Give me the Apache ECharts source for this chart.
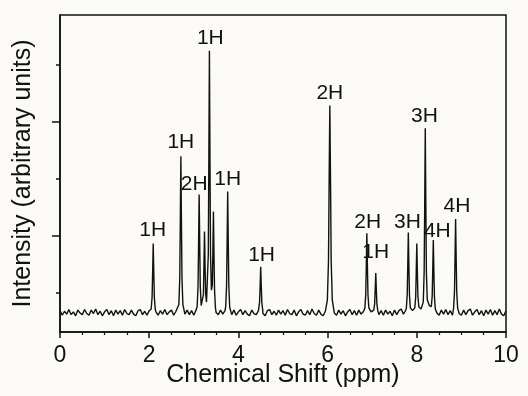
<!DOCTYPE html>
<html>
<head>
<meta charset="utf-8">
<script src="https://cdn.jsdelivr.net/npm/echarts@6/dist/echarts.min.js"></script>
<style>
html,body{margin:0;padding:0;background:#fbfaf7;}
#chart{width:528px;height:396px;}
</style>
</head>
<body>
<div id="chart"></div>
<script>
// Spectrum trace: [chemical shift (ppm), intensity (arbitrary units)]
const spectrum = [
[0.00,0.69],[0.05,0.61],[0.10,0.68],[0.15,0.63],[0.20,0.71],[0.25,0.62],[0.30,0.67],[0.35,0.60],[0.40,0.70],[0.45,0.65],
[0.50,0.62],[0.55,0.71],[0.60,0.64],[0.65,0.61],[0.70,0.70],[0.75,0.64],[0.80,0.72],[0.85,0.62],[0.90,0.68],[0.95,0.60],
[1.00,0.67],[1.05,0.71],[1.10,0.62],[1.15,0.69],[1.20,0.60],[1.25,0.70],[1.30,0.63],[1.35,0.69],[1.40,0.61],[1.45,0.71],
[1.50,0.64],[1.55,0.62],[1.60,0.70],[1.65,0.63],[1.70,0.60],[1.75,0.69],[1.80,0.71],[1.85,0.62],[1.90,0.68],[1.95,0.61],
[2.00,0.69],
[2.045,0.72],[2.065,0.93],[2.078,1.39],[2.09,1.87],[2.102,1.39],[2.115,0.93],[2.135,0.72],
[2.15,0.67],[2.20,0.61],[2.25,0.69],[2.30,0.63],[2.35,0.71],[2.40,0.62],[2.45,0.67],[2.50,0.70],[2.55,0.61],[2.60,0.68],
[2.665,0.80],[2.685,1.26],[2.698,2.30],[2.71,3.40],[2.722,2.30],[2.735,1.26],[2.755,0.80],
[2.80,0.63],[2.85,0.70],[2.90,0.62],[2.95,0.69],[3.00,0.61],[3.05,0.70],
[3.075,0.76],[3.095,1.12],[3.108,1.90],[3.12,2.73],[3.132,1.90],[3.145,1.12],[3.165,0.78],[3.18,0.76],
[3.195,0.80],[3.215,0.97],[3.228,1.51],[3.24,2.08],[3.252,1.51],[3.265,0.99],[3.285,0.84],[3.30,0.84],
[3.325,1.67],[3.338,3.41],[3.35,5.25],[3.362,3.41],[3.375,1.67],[3.395,1.05],
[3.415,1.14],[3.428,1.72],[3.44,2.43],[3.452,1.72],[3.465,1.05],[3.485,0.74],[3.50,0.66],
[3.55,0.62],[3.60,0.70],[3.65,0.63],[3.70,0.69],
[3.715,0.76],[3.735,1.13],[3.748,1.93],[3.76,2.78],[3.772,1.93],[3.785,1.13],[3.805,0.75],
[3.85,0.62],[3.90,0.70],[3.95,0.61],[4.00,0.67],[4.05,0.71],[4.10,0.62],[4.15,0.69],[4.20,0.63],[4.25,0.60],[4.30,0.70],
[4.35,0.64],[4.40,0.62],[4.45,0.69],
[4.455,0.70],[4.475,0.84],[4.488,1.14],[4.50,1.46],[4.512,1.14],[4.525,0.84],[4.545,0.70],
[4.55,0.64],[4.60,0.60],[4.65,0.69],[4.70,0.71],[4.75,0.62],[4.80,0.68],[4.85,0.61],[4.90,0.70],[4.95,0.63],[5.00,0.69],
[5.05,0.61],[5.10,0.71],[5.15,0.64],[5.20,0.62],[5.25,0.70],[5.30,0.60],[5.35,0.67],[5.40,0.71],[5.45,0.63],[5.50,0.61],
[5.55,0.69],[5.60,0.62],[5.65,0.72],[5.70,0.64],[5.75,0.61],[5.80,0.70],[5.85,0.63],[5.90,0.60],[5.95,0.68],
[5.995,0.88],[6.02,1.57],[6.035,3.02],[6.05,4.29],[6.065,3.02],[6.08,1.57],[6.105,0.88],
[6.15,0.65],[6.20,0.61],[6.25,0.70],[6.30,0.63],[6.35,0.69],[6.40,0.60],[6.45,0.67],[6.50,0.71],[6.55,0.62],[6.60,0.69],
[6.65,0.61],[6.70,0.70],[6.75,0.63],[6.80,0.67],
[6.835,0.73],[6.855,0.97],[6.868,1.49],[6.88,2.05],[6.892,1.49],[6.905,0.97],[6.925,0.74],[6.975,0.67],
[7.035,0.70],[7.055,0.81],[7.068,1.07],[7.08,1.35],[7.092,1.07],[7.105,0.81],[7.125,0.69],
[7.15,0.62],[7.20,0.69],[7.25,0.61],[7.30,0.70],[7.35,0.63],[7.40,0.68],[7.45,0.60],[7.50,0.70],[7.55,0.62],[7.60,0.69],
[7.65,0.72],[7.70,0.63],[7.74,0.68],
[7.765,0.73],[7.785,0.97],[7.798,1.50],[7.81,2.06],[7.822,1.50],[7.835,0.97],[7.855,0.74],[7.905,0.69],
[7.955,0.74],[7.975,0.93],[7.988,1.39],[8.00,1.87],[8.012,1.39],[8.025,0.94],[8.045,0.76],[8.095,0.72],
[8.145,0.84],[8.165,1.37],[8.178,2.60],[8.19,3.89],[8.202,2.60],[8.215,1.37],[8.235,0.88],[8.28,0.78],
[8.325,0.76],[8.345,0.94],[8.358,1.42],[8.37,1.93],[8.382,1.42],[8.395,0.94],[8.415,0.72],
[8.45,0.65],[8.50,0.61],[8.55,0.70],[8.60,0.63],[8.65,0.71],[8.70,0.62],[8.75,0.69],[8.80,0.61],
[8.825,0.74],[8.845,1.02],[8.858,1.64],[8.87,2.30],[8.882,1.64],[8.895,1.02],[8.915,0.74],
[8.95,0.64],[9.00,0.61],[9.05,0.70],[9.10,0.62],[9.15,0.69],[9.20,0.72],[9.25,0.61],[9.30,0.67],[9.35,0.71],[9.40,0.62],
[9.45,0.69],[9.50,0.60],[9.55,0.70],[9.60,0.63],[9.65,0.71],[9.70,0.61],[9.75,0.69],[9.80,0.62],[9.85,0.72],[9.90,0.63],
[9.95,0.60],[10.00,0.69]
];

// Peak annotations (integration labels) and their anchor positions
const labelText  = ['1H','1H','2H','1H','1H','1H','2H','3H','2H','1H','3H','4H','4H'];
const labelShift = [2.08, 2.71, 3.01, 3.37, 3.76, 4.52, 6.05, 8.17, 6.90, 7.08, 7.79, 8.46, 8.90];
const labelLevel = [2.11, 3.65, 2.91, 5.47, 3.00, 1.67, 4.51, 4.11, 2.25, 1.72, 2.25, 2.08, 2.53];

// Axis ticks
const xTicks = [0, 2, 4, 6, 8, 10];
const yMajorTicks = [2, 4];
const yMinorTicks = [1, 3, 5];

const xTitle = 'Chemical Shift (ppm)';
const yTitle = 'Intensity (arbitrary units)';

const FONT = 'Liberation Sans, Arial, Helvetica, sans-serif';
const INK = '#111111';

const chart = echarts.init(document.getElementById('chart'), null, {renderer: 'canvas'});

const labelData = labelText.map((t, i) => ({value: [labelShift[i], labelLevel[i]], name: t}));

chart.setOption({
  backgroundColor: '#fbfaf7',
  animation: false,
  grid: {left: 60, right: 22, top: 15, bottom: 64, show: true, borderColor: INK, borderWidth: 1.5,
         backgroundColor: 'transparent', containLabel: false, outerBoundsMode: 'none'},
  xAxis: {
    type: 'value', min: xTicks[0], max: xTicks[xTicks.length - 1], interval: 2,
    name: xTitle, nameLocation: 'middle', nameGap: 31, nameMoveOverlap: false,
    nameTextStyle: {fontFamily: FONT, fontSize: 25, color: INK},
    axisLine: {show: true, lineStyle: {color: INK, width: 1.5}},
    axisTick: {show: true, inside: false, length: 6, lineStyle: {color: INK, width: 1.5}},
    minorTick: {show: true, splitNumber: 4, length: 3, lineStyle: {color: INK, width: 1.2}},
    axisLabel: {fontFamily: FONT, fontSize: 23, color: INK, margin: 12},
    splitLine: {show: false}
  },
  yAxis: [
    {
      type: 'value', min: 0.316, max: 5.877,
      name: yTitle, nameLocation: 'middle', nameGap: 24, nameRotate: 90, nameMoveOverlap: false,
      nameTextStyle: {fontFamily: FONT, fontSize: 25, color: INK},
      axisLine: {show: true, lineStyle: {color: INK, width: 1.5}},
      axisTick: {show: true, inside: false, length: 8, customValues: yMajorTicks, lineStyle: {color: INK, width: 1.5}},
      axisLabel: {show: false},
      splitLine: {show: false}
    },
    {
      type: 'value', min: 0.316, max: 5.877, position: 'left',
      axisLine: {show: false},
      axisTick: {show: true, inside: false, length: 4, customValues: yMinorTicks, lineStyle: {color: INK, width: 1.5}},
      axisLabel: {show: false},
      splitLine: {show: false}
    }
  ],
  series: [
    {
      type: 'line', data: spectrum, yAxisIndex: 0, showSymbol: false, symbol: 'none',
      lineStyle: {color: INK, width: 1.4}, z: 2
    },
    {
      type: 'scatter', data: labelData, yAxisIndex: 0, symbolSize: 0, z: 3,
      label: {show: true, position: 'inside', formatter: p => p.name, fontFamily: FONT, fontSize: 21,
               color: INK, textBorderWidth: 0, opacity: 1}
    }
  ]
});
</script>
</body>
</html>
